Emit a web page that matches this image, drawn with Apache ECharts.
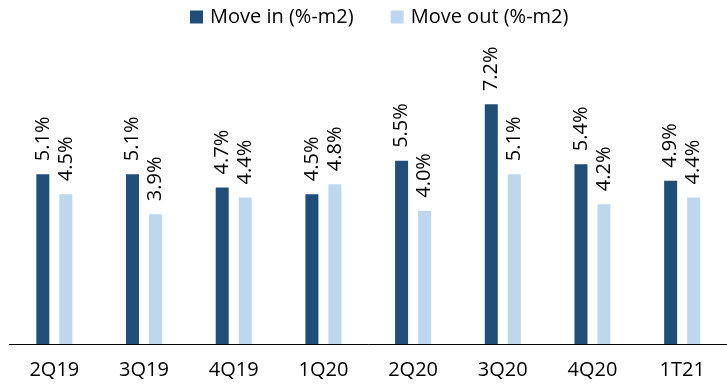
<!DOCTYPE html>
<html>
<head>
<meta charset="utf-8">
<script src="https://cdn.jsdelivr.net/npm/echarts@6/dist/echarts.min.js"></script>
<style>
  html, body { margin: 0; padding: 0; background: #fff; }
  #chart { width: 727px; height: 390px; }
</style>
</head>
<body>
<div id="chart"></div>
<script>
// quarters
const categories = ['2Q19', '3Q19', '4Q19', '1Q20', '2Q20', '3Q20', '4Q20', '1T21'];
const moveIn = [5.1, 5.1, 4.7, 4.5, 5.5, 7.2, 5.4, 4.9];
const moveOut = [4.5, 3.9, 4.4, 4.8, 4.0, 5.1, 4.2, 4.4];

const FONT = '"Open Sans", sans-serif';

const chart = echarts.init(document.getElementById('chart'));

const barLabel = {
  show: true,
  position: 'top',
  rotate: 90,
  align: 'left',
  verticalAlign: 'middle',
  distance: 13,
  fontFamily: FONT,
  fontSize: 20,
  color: '#000',
  formatter: (p) => p.value.toFixed(1) + '%'
};

chart.setOption({
  animation: false,
  legend: {
    top: 2,
    left: 185,
    itemWidth: 13,
    itemHeight: 13,
    itemGap: 37,
    icon: 'rect',
    textStyle: { fontFamily: FONT, fontSize: 20, color: '#000', padding: [0, 0, 0, 2] },
    data: ['Move in (%-m2)', 'Move out (%-m2)']
  },
  grid: { left: 9.5, top: 11, width: 728, height: 333 },
  xAxis: {
    type: 'category',
    data: categories,
    axisLine: { lineStyle: { color: '#000', width: 1 } },
    axisTick: { show: false },
    axisLabel: { fontFamily: FONT, fontSize: 20, color: '#000', margin: 16 }
  },
  yAxis: {
    type: 'value',
    min: 0,
    max: 10,
    show: false
  },
  series: [
    {
      name: 'Move in (%-m2)',
      type: 'bar',
      data: moveIn,
      barWidth: 13,
      barGap: '77%',
      itemStyle: { color: '#1F4E79' },
      label: barLabel
    },
    {
      name: 'Move out (%-m2)',
      type: 'bar',
      data: moveOut,
      barWidth: 13,
      itemStyle: { color: '#BDD7EE' },
      label: barLabel
    }
  ]
});
</script>
</body>
</html>
